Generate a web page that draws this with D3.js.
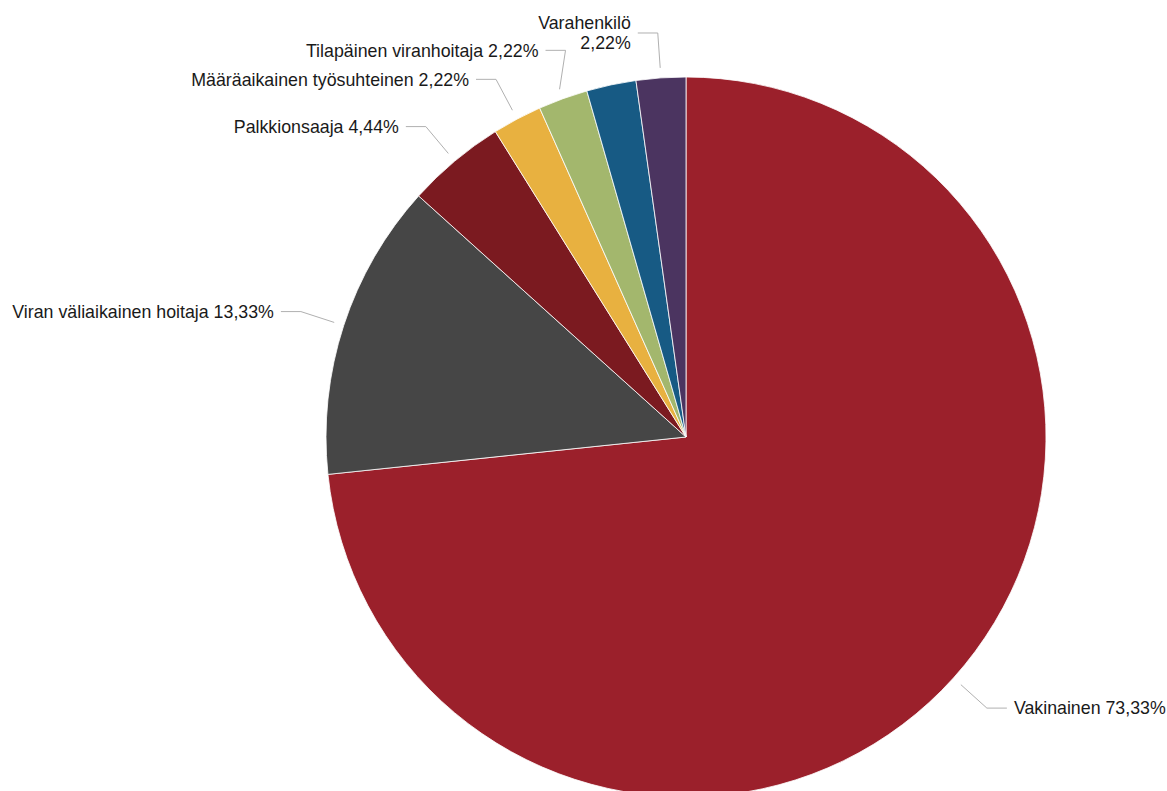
<!DOCTYPE html>
<meta charset="utf-8">
<title>Pie</title>
<style>

    body {
        margin: 0;
        background: #fff;
    }

    text {
        font-family: "Liberation Sans", Arial, sans-serif;
        font-size: 17.8px;
        fill: #1a1a1a;
    }

    .connector {
        fill: none;
        stroke: #b0b0b0;
        stroke-width: 1px;
    }

</style>
<body>
<script src="https://cdn.jsdelivr.net/npm/d3@7"></script>
<script>

    var w = 1167,
        h = 791,
        cx = 686,
        cy = 437,
        r = 360;

    // slices clockwise from 12 o'clock
    var names = ["Vakinainen", "Viran väliaikainen hoitaja", "Palkkionsaaja",
                 "Määräaikainen työsuhteinen", "Tilapäinen viranhoitaja", "Muu", "Varahenkilö"];
    var values = [73.33, 13.33, 4.44, 2.22, 2.22, 2.22, 2.22];
    var colors = ["#9b202b", "#464646", "#7b1a20", "#e8b140", "#a3b76d", "#175a84", "#4b3460"];

    var fmt = function(v) { return v.toFixed(2).replace(".", ","); };

    var svg = d3.select("body").append("svg")
        .attr("width", w)
        .attr("height", h);

    var pie = d3.pie().sort(null).value(function(d) { return d.value; });
    var arcs = pie(names.map(function(n, i) { return {name: n, value: values[i], color: colors[i]}; }));

    var arc = d3.arc().innerRadius(0).outerRadius(r);

    var g = svg.append("g").attr("transform", "translate(" + cx + "," + cy + ")");

    g.selectAll("path")
        .data(arcs)
        .enter().append("path")
        .attr("d", arc)
        .style("fill", function(d) { return d.data.color; })
        .style("stroke", "#fff")
        .style("stroke-width", 0.8);

    // label layout: natural spot on a ring, nudged / wrapped / dropped on collision
    var ring = r + 45, lineH = 20, minGap = 29, seg = 20, pad = 7, maxShift = 10, hTol = 5;

    var measure = svg.append("text").attr("visibility", "hidden");
    function textW(s) { measure.text(s); return measure.node().getComputedTextLength(); }

    var labels = arcs.map(function(d) {
        var a = (d.startAngle + d.endAngle) / 2;
        return {
            d: d, a: a,
            left: Math.sin(a) < 0,
            y: -ring * Math.cos(a),
            lines: [d.data.name + " " + fmt(d.data.value) + "%"]
        };
    });

    function xAt(l) {
        var dy = Math.max(-ring, Math.min(ring, l.y));
        var dx = Math.sqrt(ring * ring - dy * dy);
        return l.left ? -dx : dx;
    }
    function box(l) {
        var x = xAt(l), wd = d3.max(l.lines, textW), ht = l.lines.length * lineH;
        var x0 = l.left ? x - seg - pad - wd : x + seg + pad;
        return {x0: x0, x1: x0 + wd, y0: l.y - ht / 2, y1: l.y + ht / 2};
    }
    function hits(a, b) {
        var m = minGap - lineH;
        return a.x0 < b.x1 - hTol && b.x0 < a.x1 - hTol && a.y0 < b.y1 + m && b.y0 < a.y1 + m;
    }

    var last = {};
    labels.forEach(function(l) {
        var key = l.left ? "L" : "R", prev = last[key];
        if (prev && hits(box(l), box(prev))) {
            var ny = prev.y + (l.left ? -minGap : minGap);
            if (Math.abs(ny - l.y) <= maxShift) {
                l.y = ny;
            } else {
                l.lines = [l.d.data.name, fmt(l.d.data.value) + "%"];
                if (hits(box(l), box(prev))) l.hidden = true;
            }
        }
        if (!l.hidden) last[key] = l;
    });

    var lg = svg.append("g").attr("transform", "translate(" + cx + "," + cy + ")");

    labels.filter(function(l) { return !l.hidden; }).forEach(function(l) {
        var sx = (r + 10) * Math.sin(l.a),
            sy = -(r + 10) * Math.cos(l.a),
            bx = xAt(l),
            ex = l.left ? bx - seg : bx + seg,
            tx = l.left ? ex - pad : ex + pad;

        lg.append("path")
            .attr("class", "connector")
            .attr("d", "M" + sx + "," + sy + "L" + bx + "," + l.y + "L" + ex + "," + l.y);

        var t = lg.append("text")
            .attr("text-anchor", l.left ? "end" : "start")
            .attr("y", l.y - (l.lines.length - 1) * lineH / 2);

        l.lines.forEach(function(s, k) {
            t.append("tspan")
                .attr("x", tx)
                .attr("dy", k === 0 ? "0.35em" : lineH)
                .text(s);
        });
    });

    measure.remove();

</script>
